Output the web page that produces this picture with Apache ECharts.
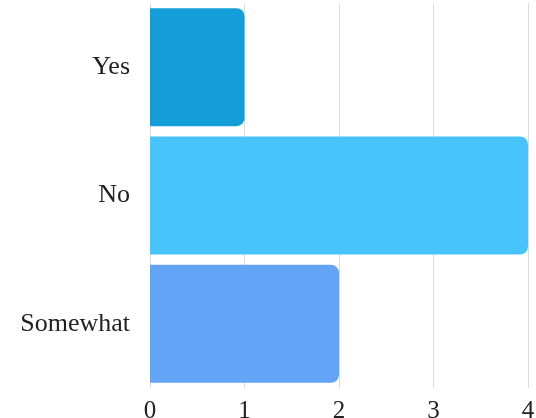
<!DOCTYPE html>
<html>
<head>
<meta charset="utf-8">
<script src="https://cdn.jsdelivr.net/npm/echarts@6/dist/echarts.min.js"></script>
<style>
  html, body { margin: 0; padding: 0; background: #fff; }
  #chart { width: 536px; height: 418px; }
</style>
</head>
<body>
<div id="chart"></div>
<script>
const categories = ['Yes', 'No', 'Somewhat'];
const values = [1, 4, 2];
const barColors = ['#139ed8', '#48c4fc', '#63a4f6'];
const xTicks = [0, 1, 2, 3, 4];

const chart = echarts.init(document.getElementById('chart'));

chart.setOption({
    animation: false,
    grid: { left: 150, right: 8, top: 3, bottom: 30, outerBoundsMode: 'none' },
    xAxis: {
        type: 'value',
        min: xTicks[0],
        max: xTicks[xTicks.length - 1],
        interval: 1,
        axisLine: { show: false },
        axisTick: { show: false },
        splitLine: { show: true, lineStyle: { color: '#dcdcdc', width: 1 } },
        axisLabel: {
            color: '#222',
            fontFamily: 'Liberation Serif',
            fontSize: 25,
            margin: 11
        }
    },
    yAxis: {
        type: 'category',
        data: categories,
        inverse: true,
        axisLine: { show: false },
        axisTick: { show: false },
        axisLabel: {
            color: '#222',
            fontFamily: 'Liberation Serif',
            fontSize: 26,
            margin: 20
        }
    },
    series: [{
        type: 'bar',
        barCategoryGap: '8%',
        data: values.map((v, i) => ({
            value: v,
            itemStyle: { color: barColors[i], borderRadius: [0, 8, 8, 0] }
        }))
    }]
});
</script>
</body>
</html>
